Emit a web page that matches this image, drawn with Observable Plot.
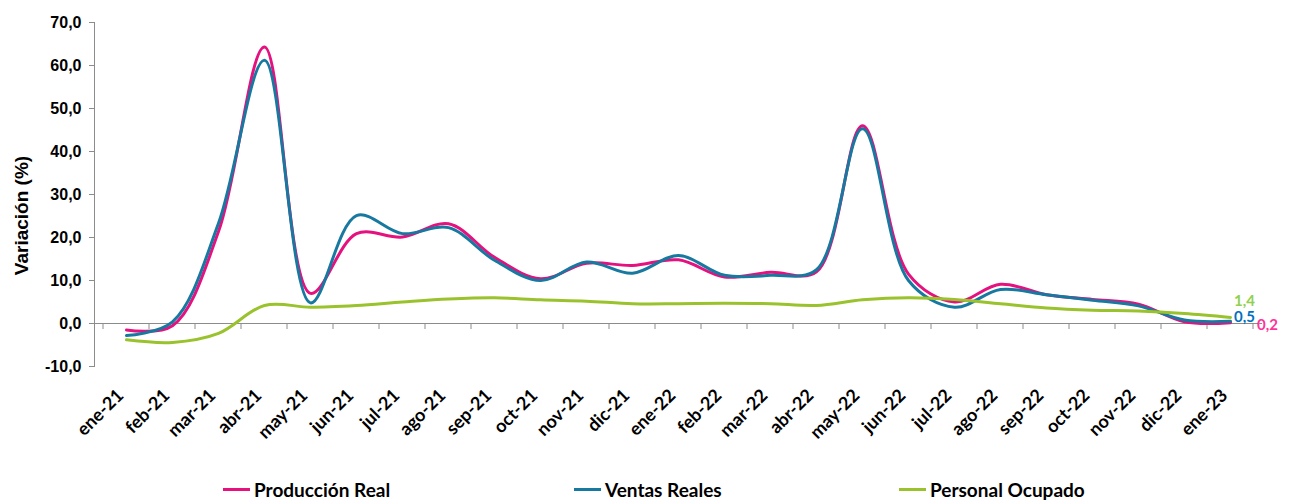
<!DOCTYPE html>
<html>
<head>
<meta charset="utf-8">
<script src="https://cdn.jsdelivr.net/npm/d3@7"></script>
<script src="https://cdn.jsdelivr.net/npm/@observablehq/plot@0.6"></script>
<style>
  body { margin: 0; background: #fff; }
  #chart svg { display: block; }
  #legend { position: relative; width: 1292px; height: 30px; font-family: Lato, "Open Sans", sans-serif; font-weight: bold; font-size: 19px; color: #000; }
  .item { position: absolute; top: 8px; height: 22px; display: flex; align-items: center; white-space: nowrap; }
  .sw { width: 27px; height: 3px; margin-right: 4px; }
</style>
</head>
<body>
<div id="chart"></div>
<div id="legend"></div>
<script>
const months = ["ene-21","feb-21","mar-21","abr-21","may-21","jun-21","jul-21","ago-21","sep-21","oct-21","nov-21","dic-21",
                "ene-22","feb-22","mar-22","abr-22","may-22","jun-22","jul-22","ago-22","sep-22","oct-22","nov-22","dic-22","ene-23"];
const produccionReal = [-1.5, -0.5, 21.4, 64.3, 7.0, 20.9, 20.1, 23.2, 15.4, 10.4, 14.0, 13.5,
                        14.8, 10.8, 11.9, 12.0, 46.0, 11.5, 5.0, 9.1, 6.7, 5.6, 4.5, 0.4, 0.2];
const ventasReales   = [-2.8, 0.4, 23.3, 61.2, 4.8, 25.1, 20.9, 22.3, 14.7, 10.0, 14.3, 11.7,
                        15.8, 11.2, 11.2, 12.5, 45.3, 10.0, 3.8, 7.9, 6.7, 5.4, 4.1, 0.8, 0.5];
const personalOcupado = [-3.8, -4.4, -2.3, 4.2, 3.8, 4.2, 5.0, 5.7, 6.0, 5.5, 5.2, 4.6,
                         4.6, 4.7, 4.6, 4.2, 5.5, 6.0, 5.6, 4.6, 3.6, 3.1, 2.9, 2.3, 1.4];
const seriesNames = ["Producción Real", "Ventas Reales", "Personal Ocupado"];
const seriesColors = ["#E4117F", "#1778A0", "#99C22C"];
const endLabelColors = ["#FF3399", "#0070C0", "#92D050"];
const yTicks = [-10, 0, 10, 20, 30, 40, 50, 60, 70];
const yLabel = "Variación (%)";

const seriesValues = [produccionReal, ventasReales, personalOcupado];
const data = seriesValues.flatMap((vals, s) => vals.map((v, i) => ({month: months[i], value: v, series: seriesNames[s]})));
const lastPoints = seriesValues.map((vals, s) => ({month: months[months.length - 1], value: vals[vals.length - 1], series: seriesNames[s]}));
const fmt = d => d.toFixed(1).replace(".", ",");
const humanist = "Lato, 'Open Sans', sans-serif";

function categoryTicks(index, scales) {
  const pos = months.map(m => scales.x(m));
  const step = pos[1] - pos[0];
  const y0 = scales.y(0);
  const bounds = pos.map(p => p - step / 2).concat([pos[pos.length - 1] + step / 2]);
  const g = d3.create("svg:g").attr("stroke", "#8c8c8c").attr("stroke-width", 1);
  g.selectAll("line").data(bounds).join("line")
    .attr("x1", d => d).attr("x2", d => d).attr("y1", y0).attr("y2", y0 + 6);
  return g.node();
}

const endOffsets = [{dx: 37, dy: 3}, {dx: 14, dy: -4}, {dx: 14, dy: -16}];

const chart = Plot.plot({
  width: 1292,
  height: 470,
  marginLeft: 94,
  marginRight: 30,
  marginTop: 22,
  marginBottom: 104,
  style: {fontFamily: "'Liberation Sans', Arial, sans-serif", fontWeight: "bold", fontSize: "16px", color: "#000", background: "#fff"},
  x: {type: "point", domain: months, padding: 0.5},
  y: {domain: [-10, 70]},
  color: {domain: seriesNames, range: seriesColors},
  marks: [
    Plot.axisY({ticks: yTicks, tickFormat: fmt, tickSize: 5, tickPadding: 8, stroke: "#8c8c8c", label: null, fontSize: 16}),
    Plot.text([yLabel], {frameAnchor: "left", textAnchor: "middle", rotate: -90, dx: -73, dy: 21, fontSize: 19, fontWeight: "bold"}),
    Plot.axisX({tickSize: 0, tickRotate: -45, tickPadding: 26, dx: -6, label: null, fontSize: 18, fontFamily: humanist}),
    Plot.frame({anchor: "left", stroke: "#8c8c8c"}),
    Plot.ruleY([0], {stroke: "#8c8c8c"}),
    categoryTicks,
    Plot.line(data, {x: "month", y: "value", stroke: "series", z: "series", strokeWidth: 3, curve: "catmull-rom"}),
    ...lastPoints.map((p, s) => Plot.text([p], {x: "month", y: "value", text: d => fmt(d.value), fill: endLabelColors[s],
        dx: endOffsets[s].dx, dy: endOffsets[s].dy, fontSize: 15, fontFamily: humanist, fontWeight: "bold"}))
  ]
});
document.getElementById("chart").appendChild(chart);

const legend = document.getElementById("legend");
const legendLeft = [223, 574, 899];
seriesNames.forEach((name, i) => {
  const it = document.createElement("div");
  it.className = "item";
  it.style.left = legendLeft[i] + "px";
  it.innerHTML = `<span class="sw" style="background:${seriesColors[i]}"></span><span>${name}</span>`;
  legend.appendChild(it);
});
</script>
</body>
</html>
